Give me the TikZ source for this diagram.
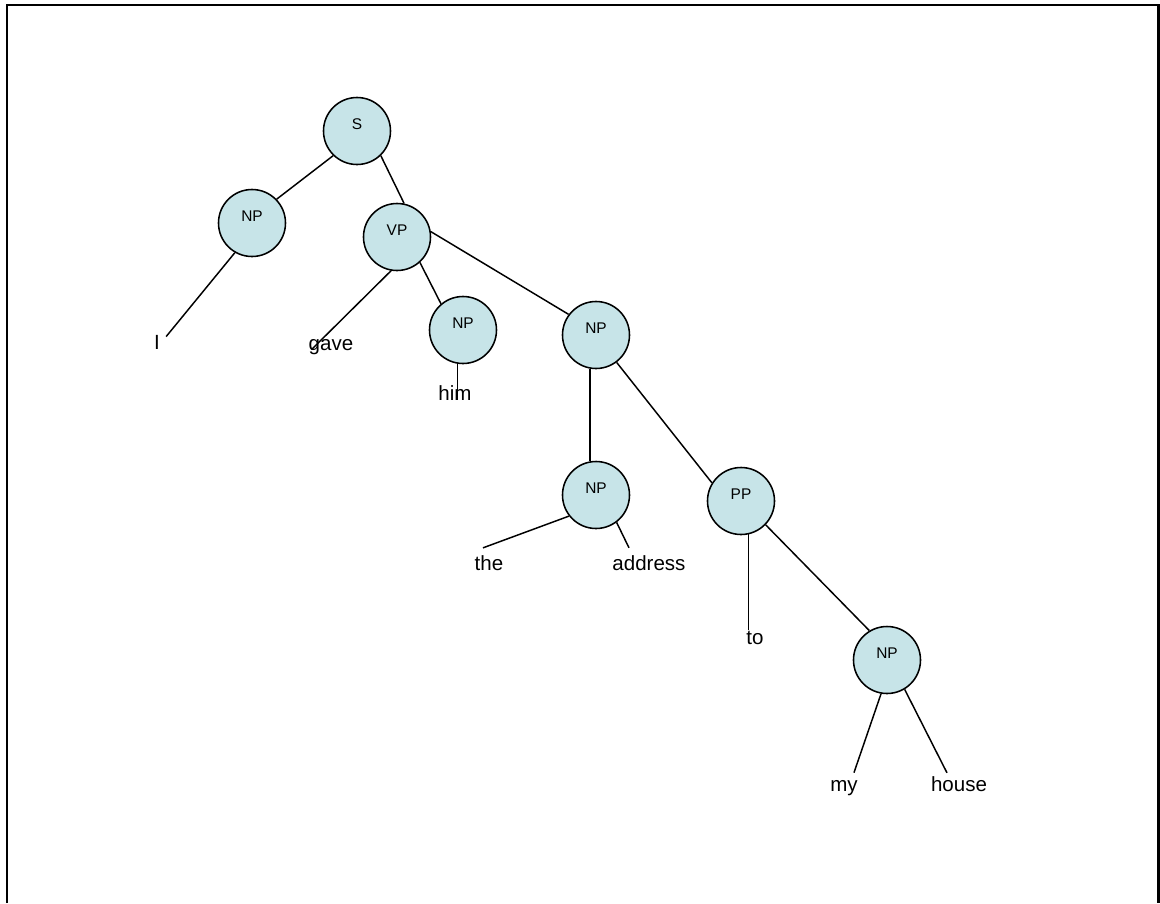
\documentclass[tikz,border=0pt]{standalone}
\usepackage{fontspec}
\setmainfont{Liberation Sans}
\definecolor{catfill}{RGB}{199,228,232}
\tikzset{
	cat/.style={circle,draw,line width=1.1pt,fill=catfill,minimum size=1.675cm,inner sep=0pt,
		label={[font=\fontsize{11}{13}\selectfont,yshift=0.18cm]center:#1}},
	word/.style={anchor=base,inner sep=0pt,font=\fontsize{14.6}{17}\selectfont},
	branch/.style={line width=1.05pt}
}
\begin{document}
\begin{tikzpicture}[x=0.025cm,y=-0.025cm]
			\useasboundingbox (0,0) rectangle (1160,903);
			%khung
			\draw[line width=1.6pt] (6.7,903) -- (6.7,5) -- (1158.5,5) -- (1158.5,903);
			%cay
			\node[cat=S] (s) at (357,131) {};
			\node[cat=NP] (np1) at (252,223) {};
			\node[cat=VP] (vp) at (397,237) {};
			\node[cat=NP] (np2) at (463,330) {};
			\node[cat=NP] (np3) at (596,335) {};
			\node[cat=NP] (np4) at (596,495) {};
			\node[cat=PP] (pp) at (741,501) {};
			\node[cat=NP] (np5) at (887,660) {};
			%tu
			\node[word] (w1) at (157,349) {I};
			\node[word] (w2) at (331,350) {gave};
			\node[word] (w3) at (455,400) {him};
			\node[word] (w4) at (489,570) {the};
			\node[word] (w5) at (649,570) {address};
			\node[word] (w6) at (755,644) {to};
			\node[word] (w7) at (844,791) {my};
			\node[word] (w8) at (959,791) {house};
			%nhanh
			\draw[branch] (s.226) -- (np1.44);
			\draw[branch] (s.-46) -- (vp.78);
			\draw[branch] (np1.240) -- ([shift={(6,2)}]w1.north east);
			\draw[branch] (vp.260) -- ([shift={(3,3)}]w2.west);
			\draw[branch] (vp.-48) -- (np2.130);
			\draw[branch] (vp.9) -- (np3.143);
			\draw[branch] (np2.-99) -- (np2.-99 |- w3.south);
			\draw[branch] (np3.-100) -- (np4.100);
			\draw[branch] (np3.-53) -- (pp.148);
			\draw[branch] (np4.218) -- ([shift={(-6,-7)}]w4.north);
			\draw[branch] (np4.-53) -- ([shift={(-20,-7)}]w5.north);
			\draw[branch] (pp.-77) -- (pp.-77 |- w6.north);
			\draw[branch] (pp.-44) -- (np5.121);
			\draw[branch] (np5.-100) -- ([shift={(-4,-7)}]w7.north east);
			\draw[branch] (np5.-59) -- ([shift={(-12,-3)}]w8.north);
		\end{tikzpicture}
\end{document}
